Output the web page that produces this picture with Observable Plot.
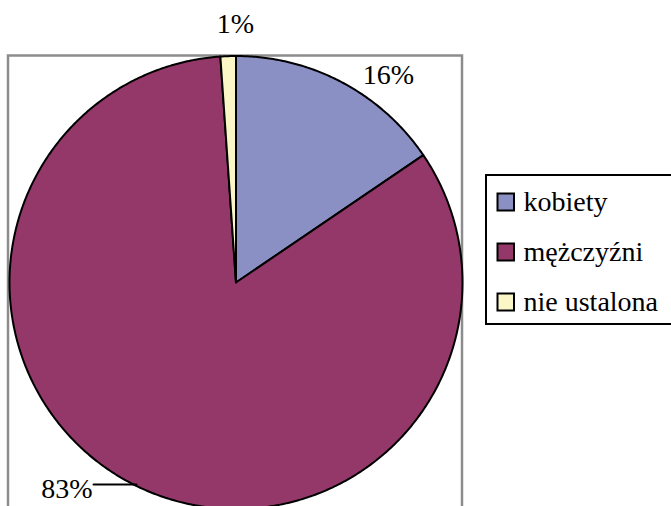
<!DOCTYPE html>
<html>
<head>
<meta charset="utf-8">
<script src="https://cdn.jsdelivr.net/npm/d3@7"></script>
<script src="https://cdn.jsdelivr.net/npm/@observablehq/plot@0.6"></script>
<style>
  html, body { margin: 0; padding: 0; background: #fff; }
  svg { display: block; background: #fff; }
  svg text { font-family: "Liberation Serif" !important; }
</style>
</head>
<body>
<div id="chart"></div>
<script>
// ---- data ----
const categories = ["kobiety", "mężczyźni", "nie ustalona"];
const shares = [15.5, 83.4, 1.1];
const labels = ["16%", "83%", "1%"];
const colors = ["#8a8fc4", "#943869", "#faf6c6"];

// ---- layout ----
const W = 671, H = 506;
const cx = 235.5, cy = 282, R = 226.5;
const font = "Liberation Serif";

const data = categories.map((name, i) => ({name, value: shares[i], label: labels[i]}));
const arcs = d3.pie().sort(null).value(d => d.value)(data);

// polygon points for each slice
const pts = [];
for (const a of arcs) {
  const name = a.data.name;
  pts.push({name, x: cx, y: cy});
  const n = Math.max(2, Math.ceil((a.endAngle - a.startAngle) / (Math.PI / 360)));
  for (let k = 0; k <= n; k++) {
    const t = a.startAngle + (a.endAngle - a.startAngle) * k / n;
    pts.push({name, x: cx + R * Math.sin(t), y: cy - R * Math.cos(t)});
  }
  pts.push({name, x: cx, y: cy});
}

// label anchors (layout)
const labelPos = {
  "kobiety": {x: 388, y: 75, anchor: "middle"},
  "mężczyźni": {x: 92, y: 489, anchor: "end"},
  "nie ustalona": {x: 235, y: 24, anchor: "middle"}
};
const labelData = data.map(d => ({...d, ...labelPos[d.name]}));

// legend rows (layout)
const legendRows = categories.map((name, i) => ({name, y: 202 + i * 50}));

const chart = Plot.plot({
  width: W,
  height: H,
  margin: 0,
  axis: null,
  x: {domain: [0, W], range: [0, W]},
  y: {domain: [0, H], range: [0, H]},
  color: {domain: categories, range: colors},
  marks: [
    Plot.rect([0], {x1: 8, x2: 462, y1: 55.5, y2: 530, fill: "none", stroke: "#8c8c8c", strokeWidth: 2.5}),
    Plot.line(pts, {x: "x", y: "y", z: "name", fill: "name", stroke: "#000", strokeWidth: 2, strokeLinejoin: "round", curve: "linear"}),
    Plot.line([{x: 93, y: 484}, {x: 136, y: 484}], {x: "x", y: "y", stroke: "#000", strokeWidth: 2}),
    Plot.text(labelData.filter(d => d.anchor === "middle"), {x: "x", y: "y", text: "label", fontSize: 28, fill: "#000", textAnchor: "middle", fontFamily: font}),
    Plot.text(labelData.filter(d => d.anchor === "end"), {x: "x", y: "y", text: "label", fontSize: 28, fill: "#000", textAnchor: "end", fontFamily: font}),
    Plot.rect([0], {x1: 486, x2: 690, y1: 175, y2: 324, fill: "#fff", stroke: "#000", strokeWidth: 2}),
    Plot.rect(legendRows, {x1: 497.5, x2: 514, y1: d => d.y - 8.5, y2: d => d.y + 8.5, fill: "name", stroke: "#000", strokeWidth: 2}),
    Plot.text(legendRows, {x: 523, y: "y", text: "name", textAnchor: "start", fontSize: 28, fill: "#000", fontFamily: font})
  ]
});
chart.style.setProperty("font-family", font, "important");
chart.querySelectorAll("g, text").forEach(el => {
  el.setAttribute("font-family", font);
  el.style.setProperty("font-family", font, "important");
});
document.getElementById("chart").appendChild(chart);
</script>
</body>
</html>
